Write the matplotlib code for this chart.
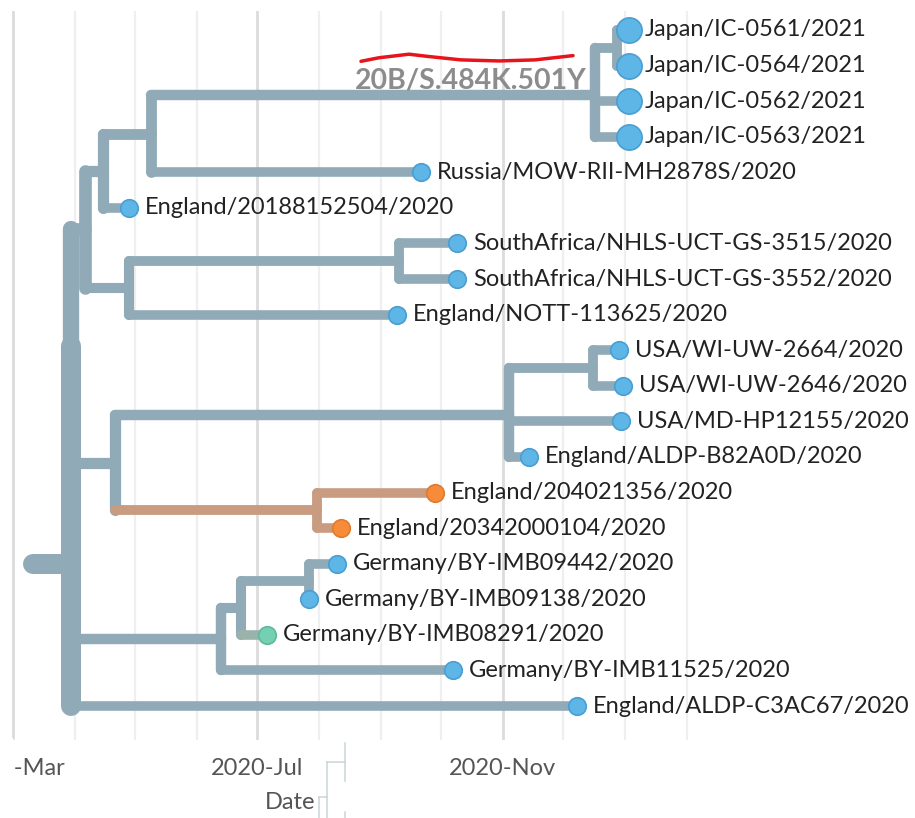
import numpy as np
import matplotlib
matplotlib.use('Agg')
import matplotlib.pyplot as plt
import matplotlib.dates as mdates
from matplotlib.lines import Line2D
from matplotlib.patches import Rectangle

plt.rcParams['font.family'] = ['Lato', 'DejaVu Sans']

# tips, top to bottom
tip_names = ['Japan/IC-0561/2021', 'Japan/IC-0564/2021', 'Japan/IC-0562/2021', 'Japan/IC-0563/2021',
             'Russia/MOW-RII-MH2878S/2020', 'England/20188152504/2020',
             'SouthAfrica/NHLS-UCT-GS-3515/2020', 'SouthAfrica/NHLS-UCT-GS-3552/2020',
             'England/NOTT-113625/2020', 'USA/WI-UW-2664/2020', 'USA/WI-UW-2646/2020',
             'USA/MD-HP12155/2020', 'England/ALDP-B82A0D/2020', 'England/204021356/2020',
             'England/20342000104/2020', 'Germany/BY-IMB09442/2020', 'Germany/BY-IMB09138/2020',
             'Germany/BY-IMB08291/2020', 'Germany/BY-IMB11525/2020', 'England/ALDP-C3AC67/2020']
tip_parent = ['J1', 'J1', 'J', 'J', 'A', 'B', 'SA', 'SA', 'D', 'H1', 'H1', 'H', 'H', 'O', 'O',
              'G2', 'G2', 'G1', 'G', 'root']
tip_dates = ['2021-01-03', '2021-01-03', '2021-01-03', '2021-01-03', '2020-09-21', '2020-04-28',
             '2020-10-09', '2020-10-09', '2020-09-09', '2020-12-29', '2020-12-31', '2020-12-30',
             '2020-11-14', '2020-09-28', '2020-08-12', '2020-08-10', '2020-07-27', '2020-07-06',
             '2020-10-07', '2020-12-08']
tip_group = ['S'] * 13 + ['O', 'O'] + ['S', 'S', 'G', 'S', 'S']
highlighted = ['Japan/IC-0561/2021', 'Japan/IC-0564/2021', 'Japan/IC-0562/2021', 'Japan/IC-0563/2021']

# internal nodes
node_names = ['root', 'E', 'C', 'B', 'A', 'J', 'J1', 'D', 'SA', 'F', 'H', 'H1', 'O', 'G', 'G1', 'G2']
node_parent = [None, 'root', 'E', 'C', 'B', 'A', 'J', 'C', 'D', 'E', 'F', 'H', 'F', 'root', 'G', 'G1']
node_dates = ['2020-03-30', '2020-03-30', '2020-04-06', '2020-04-15', '2020-05-09', '2020-12-17',
              '2020-12-28', '2020-04-28', '2020-09-10', '2020-04-21', '2020-11-04', '2020-12-16',
              '2020-07-31', '2020-06-13', '2020-06-23', '2020-07-27']
node_group = ['S'] * 12 + ['O'] + ['S'] * 3
root_stub_date = '2020-03-11'

clade_node = 'J'
clade_label = '20B/S.484K.501Y'

major_ticks = ['2020-03-01', '2020-07-01', '2020-11-01']
major_labels = ['2020-Mar', '2020-Jul', '2020-Nov']
minor_ticks = ['2020-04-01', '2020-05-01', '2020-06-01', '2020-08-01', '2020-09-01', '2020-10-01',
               '2020-12-01', '2021-01-01', '2021-02-01']

# red hand-drawn mark over the clade label
scribble_dates = ['2020-08-22', '2020-08-31', '2020-09-15', '2020-09-24', '2020-10-11',
                  '2020-10-30', '2020-11-17', '2020-12-06']
scribble_y = [0.88, 0.78, 0.68, 0.74, 0.84, 0.87, 0.84, 0.72]

palette = {'S': ('#5EB6E6', '#4A9ED2', '#90AAB8'),
           'O': ('#F68B3A', '#E07A2C', '#C99B81'),
           'G': ('#74CFB3', '#5DBA9D', '#9AB3AA')}

# ---- layout ----
pos = {}
for n, d in zip(tip_names, tip_dates):
    pos[n] = mdates.datestr2num(d)
for n, d in zip(node_names, node_dates):
    pos[n] = mdates.datestr2num(d)
parent = dict(zip(tip_names, tip_parent))
parent.update({n: p for n, p in zip(node_names, node_parent)})
group = dict(zip(tip_names, tip_group))
group.update(dict(zip(node_names, node_group)))
children = {n: [] for n in node_names}
for n in tip_names + node_names:
    if parent[n] is not None:
        children[parent[n]].append(n)

yy = {n: i for i, n in enumerate(tip_names)}
ntips = {n: 1 for n in tip_names}

def layout(n):
    if n in yy:
        return yy[n]
    ys = [layout(c) for c in children[n]]
    yy[n] = np.mean(ys)
    ntips[n] = sum(ntips[c] for c in children[n])
    return yy[n]

layout('root')

def width(n):
    px = 9.5 + 10.5 * (ntips[n] / 20) ** 1.5
    return px * 0.72

fig = plt.figure(figsize=(9.15, 8.18), dpi=100)
ax = fig.add_axes([0, 78 / 818, 1, 729 / 818])

# branches
order = sorted(tip_names + node_names, key=lambda n: -ntips[n])
for n in order:
    col = palette[group[n]][2]
    if parent[n] is not None:
        ax.plot([pos[parent[n]], pos[n]], [yy[n], yy[n]], color=col, lw=width(n),
                solid_capstyle='round', zorder=2)
    else:
        ax.plot([mdates.datestr2num(root_stub_date), pos[n]], [yy[n], yy[n]], color=col,
                lw=width(n), solid_capstyle='round', zorder=2)
    if n in children:
        cy = [yy[c] for c in children[n]]
        ax.plot([pos[n], pos[n]], [min(cy), max(cy)], color=col, lw=width(n),
                solid_capstyle='round', zorder=2)

# tips
for n in tip_names:
    fill, edge, _ = palette[group[n]]
    s = 330 if n in highlighted else 160
    ax.scatter(pos[n], yy[n], s=s, color=fill, edgecolors=edge, linewidths=1.2, zorder=4)
    ax.annotate(n, (pos[n], yy[n]), xytext=(11.5, 0), textcoords='offset points',
                va='center', ha='left', fontsize=17, color='#222222', zorder=5)

ax.annotate(clade_label, (pos[clade_node], yy[clade_node]), xytext=(-6, 5),
            textcoords='offset points', ha='right', va='baseline', fontsize=20.5,
            fontweight='bold', color='#8c8c8c', zorder=5)
ax.plot(mdates.datestr2num(scribble_dates), scribble_y, color='#E8141B', lw=2.5,
        solid_capstyle='round', zorder=6)

# axis
jul = mdates.datestr2num('2020-07-01')
ax.set_xlim(jul - 128.5, jul + 329)
ax.set_ylim(19.955, -0.534)
ax.set_xticks(mdates.datestr2num(major_ticks))
ax.set_xticklabels(major_labels)
ax.set_xticks(mdates.datestr2num(minor_ticks), minor=True)
ax.tick_params(axis='x', which='both', length=0, pad=13, labelsize=17, labelcolor='#555555')
ax.set_yticks([])
ax.grid(which='major', axis='x', color='#dcdcdc', lw=2)
ax.grid(which='minor', axis='x', color='#efefef', lw=1.6)
ax.set_axisbelow(True)
for s in ax.spines.values():
    s.set_visible(False)
ax.set_xlabel('Date', fontsize=17, color='#555555')
ax.xaxis.set_label_coords(290 / 915, -0.071)

# left crop edge and slider bracket from the screenshot
fig.add_artist(Rectangle((0, 0), 12 / 915, 80 / 818, transform=fig.transFigure,
                         color='white', zorder=10))
bracket = [[(345, 743), (345, 781)], [(327, 762), (345, 762)], [(327, 762), (327, 818)],
           [(319, 797), (327, 797)], [(319, 797), (319, 818)], [(345, 812), (345, 818)]]
for seg in bracket:
    xs = [p[0] / 915 for p in seg]
    ys = [1 - p[1] / 818 for p in seg]
    fig.add_artist(Line2D(xs, ys, transform=fig.transFigure, color='#c9d6d9', lw=1.1))

fig.savefig('out.png', dpi=100)
